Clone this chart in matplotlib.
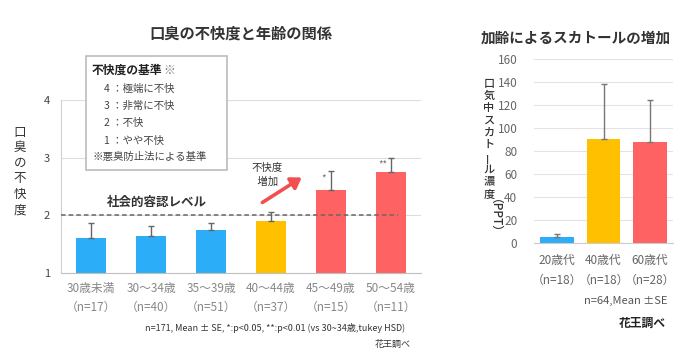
import numpy as np
import matplotlib.pyplot as plt

plt.rcParams['font.family'] = ['Noto Sans CJK JP', 'DejaVu Sans']

# Left chart data
age_groups = ['30歳未満', '30～34歳', '35～39歳', '40～44歳', '45～49歳', '50～54歳']
age_n = ['（n=17）', '（n=40）', '（n=51）', '（n=37）', '（n=15）', '（n=11）']
discomfort = [1.60, 1.64, 1.75, 1.90, 2.44, 2.75]
discomfort_se = [0.26, 0.17, 0.11, 0.15, 0.32, 0.24]
sig_marks = ['', '', '', '', '*', '**']

# Right chart data
decades = ['20歳代', '40歳代', '60歳代']
decade_n = ['（n=18）', '（n=18）', '（n=28）']
skatole = [5.5, 90.3, 87.7]
skatole_se = [2.3, 47.7, 36.7]

blue = '#2BADF7'
yellow = '#FFC000'
red = '#FF6262'
left_colors = [blue, blue, blue, yellow, red, red]
right_colors = [blue, yellow, red]

W, H = 700, 364
fig = plt.figure(figsize=(7, 3.64), dpi=100)

def fx(x):
    return x / W

def fy(y):
    return 1 - y / H

# ---- left chart ----
ax1 = fig.add_axes([fx(61), fy(272.7), 360 / W, (272.7 - 100) / H])
x = np.arange(len(age_groups))
ax1.bar(x, np.array(discomfort) - 1, bottom=1, width=0.5, color=left_colors, zorder=2)
ax1.errorbar(x, discomfort, yerr=[np.zeros(len(x)), discomfort_se], fmt='none',
             ecolor='#666666', elinewidth=1, capsize=2.5, capthick=1, zorder=3)
ax1.set_xlim(-0.5, 5.5)
ax1.set_ylim(1, 4)
ax1.set_yticks([1, 2, 3, 4])
ax1.set_yticklabels(['1', '2', '3', '4'])
ax1.yaxis.grid(True, color='#dddddd', linewidth=0.8, zorder=0)
ax1.set_axisbelow(True)
ax1.set_xticks(x)
ax1.set_xticklabels([a + '\n' + n for a, n in zip(age_groups, age_n)],
                    color='#888888', fontsize=8.5, linespacing=1.5)
ax1.tick_params(axis='both', length=0)
ax1.tick_params(axis='y', labelsize=8, colors='#444444', pad=8)
ax1.tick_params(axis='x', pad=7)
for s in ['top', 'right']:
    ax1.spines[s].set_visible(False)
ax1.spines['left'].set_color('#d0d0d0')
ax1.spines['bottom'].set_color('#c0c0c0')
ax1.plot([-0.5, 5.12], [2, 2], ls='--', color='#666666', lw=1.1, dashes=(3, 2), zorder=4)
for i, m in enumerate(sig_marks):
    if m:
        ax1.text(i - 0.13, discomfort[i] + discomfort_se[i] - 0.03, m, ha='center', va='top',
                 fontsize=7, color='#777777')

fig.text(fx(241), fy(34), '口臭の不快度と年齢の関係', ha='center', va='center',
         fontsize=11, fontweight='bold', color='#333333')

# y label, stacked vertically
for k, ch in enumerate('口臭の不快度'):
    fig.text(fx(20), fy(132 + k * 15.6), ch, ha='center', va='center', fontsize=9, color='#333333')

# criteria box
box = plt.Rectangle((fx(86), fy(170)), (227 - 86) / W, (170 - 56) / H, transform=fig.transFigure,
                    facecolor='white', edgecolor='#bbbbbb', linewidth=1.2, zorder=5)
fig.patches.append(box)
fig.text(fx(92), fy(70), '不快度の基準', ha='left', va='center', fontsize=8.5,
         fontweight='bold', color='#222222', zorder=6)
fig.text(fx(163), fy(70), '※', ha='left', va='center', fontsize=8.5, color='#777777', zorder=6)
criteria = ['4 ：極端に不快', '3 ：非常に不快', '2 ：不快', '1 ：やや不快']
for k, c in enumerate(criteria):
    fig.text(fx(104), fy(89 + k * 17.2), c, ha='left', va='center', fontsize=7.5,
             color='#444444', zorder=6)
fig.text(fx(92), fy(157), '※悪臭防止法による基準', ha='left', va='center', fontsize=7.5,
         color='#444444', zorder=6)

fig.text(fx(157), fy(202), '社会的容認レベル', ha='center', va='center', fontsize=9,
         fontweight='bold', color='#333333')
fig.text(fx(267), fy(175), '不快度\n 増加', ha='center', va='center', fontsize=7.5,
         color='#333333', linespacing=1.5)
fig.patches.append(plt.matplotlib.patches.FancyArrowPatch(
    (fx(260), fy(204)), (fx(304), fy(176)), transform=fig.transFigure,
    arrowstyle='-|>,head_length=6,head_width=4', color='#F0504F', lw=2.6))

fig.text(fx(405), fy(328), 'n=171, Mean ± SE, *:p<0.05, **:p<0.01 (vs 30~34歳,tukey HSD)',
         ha='right', va='center', fontsize=6.5, color='#333333')
fig.text(fx(411), fy(344), '花王調べ', ha='right', va='center', fontsize=6.5, color='#333333')

# ---- right chart ----
ax2 = fig.add_axes([fx(534), fy(243.3), 139 / W, (243.3 - 59) / H])
x2 = np.arange(len(decades))
ax2.bar(x2, skatole, width=0.72, color=right_colors, zorder=2)
ax2.errorbar(x2, skatole, yerr=[np.zeros(len(x2)), skatole_se], fmt='none',
             ecolor='#777777', elinewidth=1, capsize=2, capthick=1, zorder=3)
ax2.set_xlim(-0.5, 2.5)
ax2.set_ylim(0, 160)
ax2.set_yticks(np.arange(0, 161, 20))
ax2.yaxis.grid(True, color='#e3e3e3', linewidth=0.8, zorder=0)
ax2.set_axisbelow(True)
ax2.set_xticks(x2)
ax2.set_xticklabels([d + '\n' + n for d, n in zip(decades, decade_n)],
                    color='#666666', fontsize=8.5, linespacing=1.6)
ax2.tick_params(axis='both', length=0)
ax2.tick_params(axis='y', labelsize=8.5, colors='#666666', pad=12)
ax2.tick_params(axis='x', pad=8)
for s in ['top', 'right', 'left']:
    ax2.spines[s].set_visible(False)
ax2.spines['bottom'].set_color('#cccccc')

fig.text(fx(576), fy(38), '加齢によるスカトールの増加', ha='center', va='center',
         fontsize=10.5, fontweight='bold', color='#333333')

for k, ch in enumerate('口気中スカトール濃度'):
    fig.text(fx(489), fy(84 + k * 12.2), ch, ha='center', va='center', fontsize=8,
             color='#333333', fontweight='medium', rotation=90 if ch == 'ー' else 0)
fig.text(fx(489), fy(222), '（PPT）', ha='center', va='center', fontsize=8.5,
         color='#333333', fontweight='medium', rotation=-90)

fig.text(fx(667), fy(301), 'n=64,Mean ±SE', ha='right', va='center', fontsize=8, color='#555555')
fig.text(fx(666), fy(323), '花王調べ', ha='right', va='center', fontsize=8.5,
         fontweight='bold', color='#222222')

fig.savefig('out.png', dpi=100, facecolor='white')
